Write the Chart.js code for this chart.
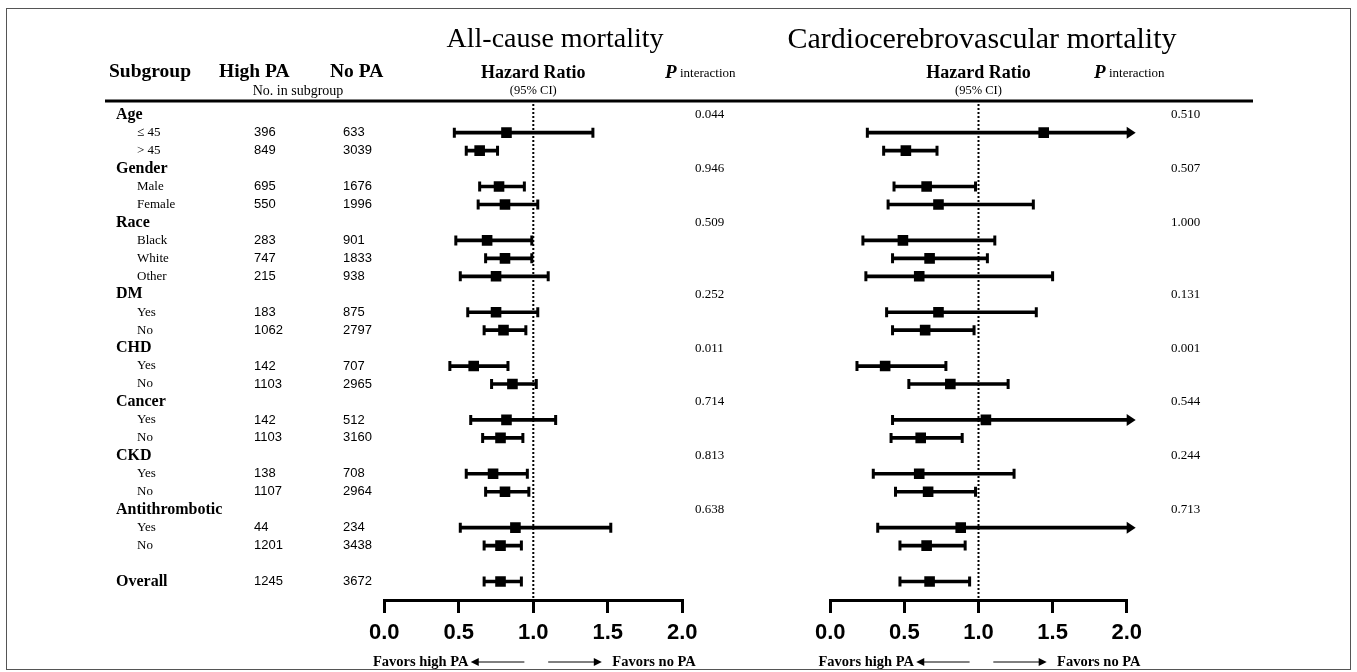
<!DOCTYPE html>
<html>
<head>
<meta charset="utf-8">
<script src="https://cdn.jsdelivr.net/npm/chart.js@4.4.1/dist/chart.umd.min.js"></script>
<style>
  html, body { margin: 0; padding: 0; background: #fff; }
  #wrap { position: relative; width: 1357px; height: 672px; overflow: hidden; }
  #wrap canvas { position: absolute; left: 0; top: 0; }
  #frame { position: absolute; left: 6px; top: 8px; width: 1345px; height: 662px; border: 1px solid #555; box-sizing: border-box; }
</style>
</head>
<body>
<div id="wrap">
  <div id="frame"></div>
  <canvas id="all-cause" width="1357" height="672"></canvas>
  <canvas id="cvd" width="1357" height="672"></canvas>
</div>
<script>
  // Rows of the forest table (blank row is the gap before Overall).
  const subgroups = [ 'Age', '≤ 45', '> 45', 'Gender', 'Male', 'Female', 'Race', 'Black', 'White', 'Other',
    'DM', 'Yes', 'No', 'CHD', 'Yes', 'No', 'Cancer', 'Yes', 'No', 'CKD', 'Yes', 'No',
    'Antithrombotic', 'Yes', 'No', '', 'Overall' ];
  const groupRows = [ 0, 3, 6, 10, 13, 16, 19, 22, 26 ];

  // No. in subgroup
  const highPA = [ null, 396, 849, null, 695, 550, null, 283, 747, 215, null, 183, 1062, null, 142, 1103,
    null, 142, 1103, null, 138, 1107, null, 44, 1201, null, 1245 ];
  const noPA = [ null, 633, 3039, null, 1676, 1996, null, 901, 1833, 938, null, 875, 2797, null, 707, 2965,
    null, 512, 3160, null, 708, 2964, null, 234, 3438, null, 3672 ];

  // All-cause mortality: hazard ratio and 95% CI
  const allHR = [ null, 0.82, 0.64, null, 0.77, 0.81, null, 0.69, 0.81, 0.75, null, 0.75, 0.80, null, 0.60, 0.86,
    null, 0.82, 0.78, null, 0.73, 0.81, null, 0.88, 0.78, null, 0.78 ];
  const allLo = [ null, 0.47, 0.55, null, 0.64, 0.63, null, 0.48, 0.68, 0.51, null, 0.56, 0.67, null, 0.44, 0.72,
    null, 0.58, 0.66, null, 0.55, 0.68, null, 0.51, 0.67, null, 0.67 ];
  const allHi = [ null, 1.40, 0.76, null, 0.94, 1.03, null, 0.99, 0.99, 1.10, null, 1.03, 0.95, null, 0.83, 1.02,
    null, 1.15, 0.93, null, 0.96, 0.97, null, 1.52, 0.92, null, 0.92 ];
  const allP = [ '0.044', null, null, '0.946', null, null, '0.509', null, null, null, '0.252', null, null, '0.011',
    null, null, '0.714', null, null, '0.813', null, null, '0.638', null, null, null, null ];

  // Cardiocerebrovascular mortality: hazard ratio and 95% CI (upper limits past 2.0 are cut with an arrow)
  const cvdHR = [ null, 1.44, 0.51, null, 0.65, 0.73, null, 0.49, 0.67, 0.60, null, 0.73, 0.64, null, 0.37, 0.81,
    null, 1.05, 0.61, null, 0.60, 0.66, null, 0.88, 0.65, null, 0.67 ];
  const cvdLo = [ null, 0.25, 0.36, null, 0.43, 0.39, null, 0.22, 0.42, 0.24, null, 0.38, 0.42, null, 0.18, 0.53,
    null, 0.42, 0.41, null, 0.29, 0.44, null, 0.32, 0.47, null, 0.47 ];
  const cvdHi = [ null, 2.80, 0.72, null, 0.98, 1.37, null, 1.11, 1.06, 1.50, null, 1.39, 0.97, null, 0.78, 1.20,
    null, 2.60, 0.89, null, 1.24, 0.98, null, 2.40, 0.91, null, 0.94 ];
  const cvdP = [ '0.510', null, null, '0.507', null, null, '1.000', null, null, null, '0.131', null, null, '0.001',
    null, null, '0.544', null, null, '0.244', null, null, '0.713', null, null, null, null ];

  const tickValues = [ 0, 0.5, 1.0, 1.5, 2.0 ];
  const refValue = 1.0;

  const SERIF = '"Liberation Serif", "Times New Roman", serif';
  const SANS = '"Liberation Sans", Arial, sans-serif';
  const Y_MIN = -0.82;
  const Y_MAX = 27.03;

  function text( ctx, s, x, y, font, align ) {
    ctx.font = font;
    ctx.textAlign = align || 'left';
    ctx.textBaseline = 'middle';
    ctx.fillStyle = '#000';
    ctx.fillText( s, x, y );
  }

  function arrowLine( ctx, x0, x1, y ) {
    // line from x0 to x1, head at x1
    const dir = x1 > x0 ? 1 : -1;
    ctx.strokeStyle = '#000';
    ctx.lineWidth = 1;
    ctx.beginPath();
    ctx.moveTo( x0, y );
    ctx.lineTo( x1 - dir * 6, y );
    ctx.stroke();
    ctx.beginPath();
    ctx.moveTo( x1, y );
    ctx.lineTo( x1 - dir * 8, y - 4 );
    ctx.lineTo( x1 - dir * 8, y + 4 );
    ctx.closePath();
    ctx.fill();
  }

  // Text, headers and truncation arrows around each panel.
  const panelText = {
    id: 'panelText',
    afterDraw( chart, args, opts ) {
      const ctx = chart.ctx;
      const x = chart.scales.x;
      const y = chart.scales.y;
      const area = chart.chartArea;
      const p = opts.panel;
      ctx.save();

      text( ctx, p.title, p.titleX, 40, p.titleSize + 'px ' + SERIF, 'center' );
      text( ctx, 'Hazard Ratio', x.getPixelForValue( refValue ), 73, 'bold 18px ' + SERIF, 'center' );
      text( ctx, '(95% CI)', x.getPixelForValue( refValue ), 91, '12.5px ' + SERIF, 'center' );
      text( ctx, 'P', p.pHeadX, 73, 'italic bold 19px ' + SERIF, 'left' );
      text( ctx, 'interaction', p.pHeadX + 15, 74, '13px ' + SERIF, 'left' );

      if ( p.table ) {
        text( ctx, 'Subgroup', 109, 72, 'bold 19.5px ' + SERIF );
        text( ctx, 'High PA', 219, 72, 'bold 19.5px ' + SERIF );
        text( ctx, 'No PA', 330, 72, 'bold 19.5px ' + SERIF );
        text( ctx, 'No. in subgroup', 298, 91, '14px ' + SERIF, 'center' );

        ctx.fillStyle = '#000';
        ctx.fillRect( 105, 99.5, 1148, 3 );

        subgroups.forEach( ( label, i ) => {
          const py = y.getPixelForValue( i );
          if ( groupRows.includes( i ) ) {
            text( ctx, label, 116, py, 'bold 16px ' + SERIF );
          } else {
            text( ctx, label, 137, py, '13px ' + SERIF );
          }
          if ( highPA[ i ] !== null ) {
            text( ctx, String( highPA[ i ] ), 254, py, '13px ' + SANS );
            text( ctx, String( noPA[ i ] ), 343, py, '13px ' + SANS );
          }
        } );
      }

      p.pValues.forEach( ( v, i ) => {
        if ( v !== null ) {
          text( ctx, v, p.pValX, y.getPixelForValue( i ), '13px ' + SERIF );
        }
      } );

      // arrows for CIs running past the axis end
      p.upper.forEach( ( v, i ) => {
        if ( v !== null && v > x.max ) {
          const py = y.getPixelForValue( i );
          ctx.fillStyle = '#000';
          ctx.beginPath();
          ctx.moveTo( area.right, py - 6 );
          ctx.lineTo( area.right + 9, py );
          ctx.lineTo( area.right, py + 6 );
          ctx.closePath();
          ctx.fill();
        }
      } );

      // favors annotations
      const fy = 662;
      ctx.fillStyle = '#000';
      text( ctx, 'Favors high PA', x.getPixelForValue( 0.565 ), fy, 'bold 14.5px ' + SERIF, 'right' );
      arrowLine( ctx, x.getPixelForValue( 0.94 ), x.getPixelForValue( 0.58 ), fy );
      arrowLine( ctx, x.getPixelForValue( 1.10 ), x.getPixelForValue( 1.46 ), fy );
      text( ctx, 'Favors no PA', x.getPixelForValue( 1.53 ), fy, 'bold 14.5px ' + SERIF, 'left' );

      ctx.restore();
    }
  };

  function rowPoints( values ) {
    return values.map( ( v, i ) => ( { x: v, y: i } ) ).filter( ( d ) => d.x !== null );
  }

  function makePanel( canvasId, hr, lo, hi, pValues, panel ) {
    const ciData = lo.map( ( v, i ) => ( { y: i, x: [ v, hi[ i ] ] } ) ).filter( ( d ) => d.x[ 0 ] !== null );
    const capData = rowPoints( lo ).concat( rowPoints( hi ).filter( ( d ) => d.x <= tickValues[ tickValues.length - 1 ] ) );

    return new Chart( document.getElementById( canvasId ), {
      type: 'bar',
      data: {
        datasets: [
          {
            type: 'scatter',
            data: [ { x: refValue, y: Y_MIN }, { x: refValue, y: Y_MAX } ],
            showLine: true,
            borderColor: '#000',
            borderWidth: 2,
            borderDash: [ 2, 2 ],
            pointRadius: 0,
            order: 4,
          },
          {
            type: 'bar',
            indexAxis: 'y',
            data: ciData,
            backgroundColor: '#000',
            borderWidth: 0,
            barThickness: 3,
            clip: { left: 5, top: 5, right: 2, bottom: 5 },
            order: 3,
          },
          {
            type: 'scatter',
            data: capData,
            pointStyle: 'line',
            rotation: 90,
            pointRadius: 5,
            borderColor: '#000',
            borderWidth: 3,
            order: 2,
          },
          {
            type: 'scatter',
            data: rowPoints( hr ),
            pointStyle: 'rect',
            pointRadius: 7.5,
            backgroundColor: '#000',
            borderWidth: 0,
            order: 1,
          },
        ],
      },
      options: {
        responsive: false,
        animation: false,
        indexAxis: 'y',
        layout: {
          padding: { left: panel.left, right: panel.right, top: 100, bottom: 18.6 },
        },
        plugins: {
          legend: { display: false },
          tooltip: { enabled: false },
          panelText: { panel: Object.assign( { pValues: pValues, upper: hi }, panel ) },
        },
        scales: {
          x: {
            type: 'linear',
            min: 0,
            max: 2,
            offset: false,
            afterBuildTicks: ( scale ) => {
              scale.ticks = tickValues.map( ( v ) => ( { value: v } ) );
            },
            ticks: {
              callback: ( v ) => Number( v ).toFixed( 1 ),
              font: { family: SANS, weight: 'bold', size: 22 },
              color: '#000',
              padding: 7,
              maxRotation: 0,
              autoSkip: false,
            },
            grid: {
              drawOnChartArea: false,
              drawTicks: true,
              tickLength: 13,
              tickWidth: 3,
              tickColor: '#000',
              color: '#000',
              lineWidth: 3,
              offset: false,
            },
            border: { display: true, width: 3, color: '#000' },
          },
          y: {
            type: 'linear',
            display: false,
            reverse: true,
            offset: false,
            grid: { offset: false },
            min: Y_MIN,
            max: Y_MAX,
          },
        },
      },
      plugins: [ panelText ],
    } );
  }

  makePanel( 'all-cause', allHR, allLo, allHi, allP, {
    title: 'All-cause mortality', titleX: 555, titleSize: 28, pHeadX: 665, pValX: 695, table: true,
    left: 384.3, right: 1357 - 682.3,
  } );
  makePanel( 'cvd', cvdHR, cvdLo, cvdHi, cvdP, {
    title: 'Cardiocerebrovascular mortality', titleX: 982, titleSize: 30, pHeadX: 1094, pValX: 1171, table: false,
    left: 830.3, right: 1357 - 1126.7,
  } );
</script>
</body>
</html>
